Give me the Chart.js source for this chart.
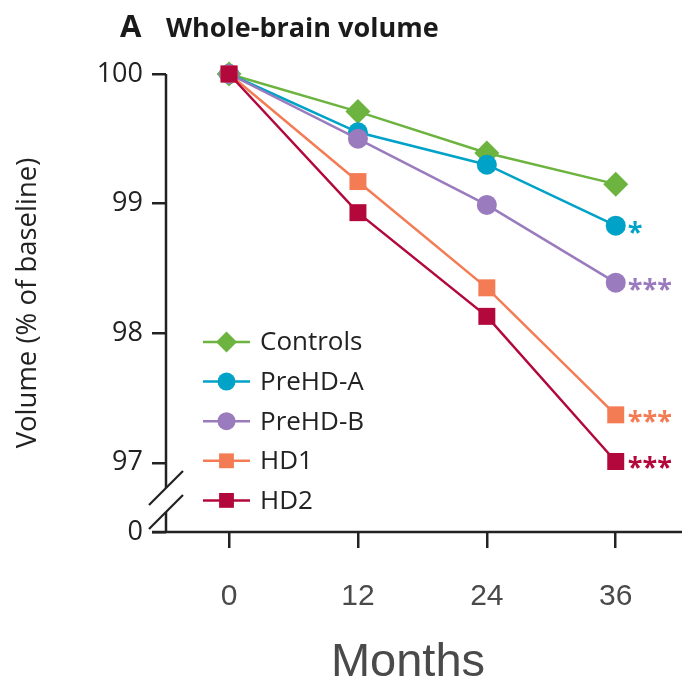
<!DOCTYPE html>
<html>
<head>
<meta charset="utf-8">
<script src="https://cdn.jsdelivr.net/npm/chart.js@4.4.1/dist/chart.umd.min.js"></script>
<style>
  html, body { margin: 0; padding: 0; background: #fff; }
  #wrap { width: 682px; height: 687px; position: relative; }
</style>
</head>
<body>
<div id="wrap"><canvas id="c" width="682" height="687"></canvas></div>
<script>
// Follow-up visits (months) and whole-brain volume, % of baseline
const months = [0, 12, 24, 36];
const seriesNames = ['Controls', 'PreHD-A', 'PreHD-B', 'HD1', 'HD2'];
const controls = [100, 99.71, 99.39, 99.15];
const preHDA   = [100, 99.55, 99.30, 98.83];
const preHDB   = [100, 99.50, 98.99, 98.39];
const hd1      = [100, 99.17, 98.35, 97.37];
const hd2      = [100, 98.93, 98.13, 97.01];
// significance versus controls at the last visit
const significance = ['', '*', '***', '***', '***'];
const yTicks = [100, 99, 98, 97];
const yBreakLabel = '0';
const xTicks = [0, 12, 24, 36];

const seriesValues = [controls, preHDA, preHDB, hd1, hd2];
const colors = ['#6cb33f', '#00a2c7', '#9a7bbe', '#f47c55', '#b3083b'];
const pointStyles = ['rectRot', 'circle', 'circle', 'rect', 'rect'];
const pointRadii = [12.5, 10, 10, 12, 12];
const legendRadii = [10.5, 9, 9, 10.5, 10.5];

// bottom of the broken axis (drawn as "0")
const axisFloor = 96.466;
const FONT = '"Open Sans", "Noto Sans", sans-serif';
const ARIAL = '"Liberation Sans", Arial, sans-serif';

const datasets = seriesValues.map((vals, i) => ({
  label: seriesNames[i],
  data: vals.map((v, j) => ({ x: months[j], y: v })),
  borderColor: colors[i],
  backgroundColor: colors[i],
  borderWidth: 2.5,
  pointStyle: pointStyles[i],
  pointRadius: pointRadii[i],
  pointHoverRadius: pointRadii[i],
  pointBorderWidth: 0,
  tension: 0,
  clip: false,
  order: seriesNames.length - i
}));

const panelTitle = {
  id: 'panelTitle',
  afterDraw(chart) {
    const ctx = chart.ctx;
    ctx.save();
    ctx.fillStyle = '#1a1a1a';
    ctx.textBaseline = 'alphabetic';
    ctx.textAlign = 'left';
    ctx.font = `bold 31px ${FONT}`;
    ctx.fillText('A', 120, 37);
    ctx.font = `bold 27px ${FONT}`;
    ctx.fillText('Whole-brain volume', 166, 37);
    ctx.restore();
  }
};

// axis lines with the break between 97 and 0
const brokenAxes = {
  id: 'brokenAxes',
  beforeDatasetsDraw(chart) {
    const { ctx, chartArea } = chart;
    const y = chart.scales.y;
    const x0 = chartArea.left;
    const yTop = y.getPixelForValue(yTicks[0]);
    const yBot = chartArea.bottom;
    const b1 = yBot - 44, b2 = yBot - 20, s = 17;
    ctx.save();
    ctx.strokeStyle = '#222';
    ctx.lineWidth = 2.5;
    ctx.lineCap = 'butt';
    ctx.beginPath();
    ctx.moveTo(x0, yTop); ctx.lineTo(x0, b1);
    ctx.moveTo(x0, b2); ctx.lineTo(x0, yBot);
    ctx.moveTo(x0 - 14, yBot); ctx.lineTo(chart.width, yBot);
    ctx.stroke();
    ctx.lineWidth = 2.2;
    ctx.beginPath();
    ctx.moveTo(x0 - s, b1 + s); ctx.lineTo(x0 + s, b1 - s);
    ctx.moveTo(x0 - s, b2 + s); ctx.lineTo(x0 + s, b2 - s);
    ctx.stroke();
    ctx.restore();
  }
};

const sigMarks = {
  id: 'sigMarks',
  afterDatasetsDraw(chart) {
    const ctx = chart.ctx;
    ctx.save();
    ctx.font = `bold 27px ${FONT}`;
    ctx.textAlign = 'left';
    ctx.textBaseline = 'alphabetic';
    chart.data.datasets.forEach((ds, i) => {
      if (!significance[i]) return;
      const meta = chart.getDatasetMeta(i);
      const pt = meta.data[meta.data.length - 1];
      ctx.fillStyle = colors[i];
      ctx.fillText(significance[i], pt.x + 12, pt.y + 15);
    });
    ctx.restore();
  }
};

const innerLegend = {
  id: 'innerLegend',
  afterDraw(chart) {
    const { ctx, chartArea } = chart;
    const left = chartArea.left + 37;
    const top = chartArea.top + 268;
    const step = 39.6;
    ctx.save();
    seriesNames.forEach((name, i) => {
      const cy = top + i * step;
      ctx.strokeStyle = colors[i];
      ctx.lineWidth = 2.5;
      ctx.beginPath();
      ctx.moveTo(left, cy); ctx.lineTo(left + 47, cy);
      ctx.stroke();
      ctx.fillStyle = colors[i];
      Chart.helpers.drawPoint(ctx, { pointStyle: pointStyles[i], radius: legendRadii[i], borderWidth: 0, rotation: 0 }, left + 23.5, cy);
      ctx.fillStyle = '#222';
      ctx.font = `26px ${FONT}`;
      ctx.textAlign = 'left';
      ctx.textBaseline = 'middle';
      ctx.fillText(name, left + 57, cy + 1);
    });
    ctx.restore();
  }
};

new Chart(document.getElementById('c'), {
  type: 'line',
  data: { datasets },
  plugins: [panelTitle, brokenAxes, sigMarks, innerLegend],
  options: {
    responsive: false,
    animation: false,
    devicePixelRatio: 1,
    layout: { padding: { top: 74, right: 32, left: 0, bottom: 0 } },
    plugins: { legend: { display: false }, tooltip: { enabled: false }, title: { display: false } },
    scales: {
      x: {
        type: 'linear',
        min: -5.87,
        max: 39.19,
        afterBuildTicks: s => { s.ticks = xTicks.map(v => ({ value: v })); },
        afterFit: s => { s.height = 155; },
        border: { display: false },
        grid: { display: true, drawOnChartArea: false, drawTicks: true, tickLength: 16, color: '#222', lineWidth: 2.5 },
        ticks: { color: '#4a4a4a', font: { family: ARIAL, size: 30 }, padding: 31, maxRotation: 0 },
        title: { display: true, text: 'Months', color: '#4a4a4a', font: { family: ARIAL, size: 47, lineHeight: 1 }, padding: 0 }
      },
      y: {
        type: 'linear',
        min: axisFloor,
        max: 100,
        afterBuildTicks: s => { s.ticks = yTicks.concat([axisFloor]).map(v => ({ value: v })); },
        afterFit: s => { s.width = 166; },
        border: { display: false },
        grid: { display: true, drawOnChartArea: false, drawTicks: true, tickLength: 14, color: '#222', lineWidth: 2.5 },
        ticks: {
          color: '#222',
          font: { family: FONT, size: 27 },
          padding: 9,
          callback: (v, idx) => (idx === yTicks.length ? yBreakLabel : String(v))
        },
        title: { display: true, text: 'Volume (% of baseline)', color: '#222', font: { family: FONT, size: 27.5, lineHeight: 1 }, padding: { top: 14, bottom: 0 } }
      }
    }
  }
});
</script>
</body>
</html>
